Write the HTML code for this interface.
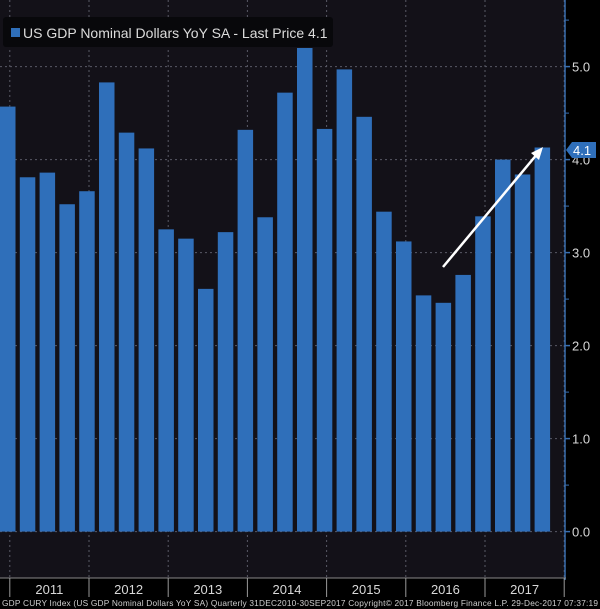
<!DOCTYPE html>
<html><head><meta charset="utf-8"><style>
html,body{margin:0;padding:0;background:#000;}
svg{display:block;font-family:"Liberation Sans",sans-serif;}
</style></head><body>
<svg id="chart" width="600" height="609" viewBox="0 0 600 609">
  <rect x="0" y="0" width="564" height="578" fill="#131118"/>
  <g id="grid"></g>
  <g id="bars"></g>
  <line x1="565" y1="0" x2="565" y2="580" stroke="#3a6fb0" stroke-width="1.5"/>
  <g id="yaxis"></g>
  <g id="xaxis"></g>
  <g>
    <rect x="3" y="17" width="330" height="30" rx="3" fill="#08080b"/>
    <rect x="11" y="28" width="9" height="9" fill="#2f6fba"/>
    <text x="23" y="38" font-size="14" fill="#dcdcdc">US GDP Nominal Dollars YoY SA - Last Price 4.1</text>
  </g>
  <g>
    <line x1="443" y1="267" x2="538" y2="153" stroke="#fff" stroke-width="2.5"/>
    <polygon points="543,147 531,153 539,160" fill="#fff"/>
  </g>
  <g>
    <polygon points="566,150 572,142 596,142 596,158 572,158" fill="#2f6fba"/>
    <text x="573" y="155" font-size="13" fill="#fff">4.1</text>
  </g>
  <text x="2" y="606" font-size="8.3" fill="#cfcfcf" textLength="596">GDP CURY Index (US GDP Nominal Dollars YoY SA) Quarterly 31DEC2010-30SEP2017 Copyright© 2017 Bloomberg Finance L.P. 29-Dec-2017 07:37:19</text>
</svg>
<script>
const quarters=["Q4 2010","Q1 2011","Q2 2011","Q3 2011","Q4 2011","Q1 2012","Q2 2012","Q3 2012","Q4 2012","Q1 2013","Q2 2013","Q3 2013","Q4 2013","Q1 2014","Q2 2014","Q3 2014","Q4 2014","Q1 2015","Q2 2015","Q3 2015","Q4 2015","Q1 2016","Q2 2016","Q3 2016","Q4 2016","Q1 2017","Q2 2017","Q3 2017"];
const values=[4.57,3.81,3.86,3.52,3.66,4.83,4.29,4.12,3.25,3.15,2.61,3.22,4.32,3.38,4.72,5.2,4.33,4.97,4.46,3.44,3.12,2.54,2.46,2.76,3.39,4.0,3.84,4.13];
const yTicks=[0,1,2,3,4,5];
const yTickLabels=["0.0","1.0","2.0","3.0","4.0","5.0"];
const years=["2011","2012","2013","2014","2015","2016","2017"];
const NS="http://www.w3.org/2000/svg";
const y=v=>531.6-v*93;
const x=i=>i*19.8;
const bw=15.5;
function mk(t,a,p){const e=document.createElementNS(NS,t);for(const k in a)e.setAttribute(k,a[k]);p.appendChild(e);return e;}
const grid=document.getElementById('grid'),bars=document.getElementById('bars'),ya=document.getElementById('yaxis'),xa=document.getElementById('xaxis');
yTicks.forEach((t,i)=>{
  const l=mk('line',{x1:0,x2:564,y1:y(t),y2:y(t),stroke:'#5a5a66','stroke-width':1,'stroke-dasharray':'2,3'},grid);
  
  
  mk('line',{x1:565,x2:570,y1:y(t),y2:y(t),stroke:'#3a6fb0','stroke-width':1.5},ya);
  const tx=mk('text',{x:572,y:y(t)+5,'font-size':13,fill:'#d8d8d8'},ya);
  tx.textContent=yTickLabels[i];
  
  
  mk('line',{x1:565,x2:569,y1:y(t+0.5),y2:y(t+0.5),stroke:'#3a6fb0','stroke-width':1},ya);
});
values.forEach((v,i)=>{
  const r=mk('rect',{x:x(i),y:y(v),width:bw,height:y(0)-y(v),fill:'#2f6fba'},bars);
  
  
});
mk('line',{x1:0,x2:566,y1:578,y2:578,stroke:'#888','stroke-width':1},xa);
for(let k=0;k<=years.length;k++){
  const bx=x(1+4*k)-10;
  const g=mk('line',{x1:bx,x2:bx,y1:0,y2:578,stroke:'#5a5a66','stroke-width':1,'stroke-dasharray':'2,3'},grid);
  
  
  mk('line',{x1:bx,x2:bx,y1:578,y2:597,stroke:'#999','stroke-width':1},xa);
  if(k<years.length){
    const t=mk('text',{x:bx+39.6,y:594,'font-size':13,fill:'#d8d8d8','text-anchor':'middle'},xa);
    t.textContent=years[k];
    
    
  }
}
</script>
</body></html>
